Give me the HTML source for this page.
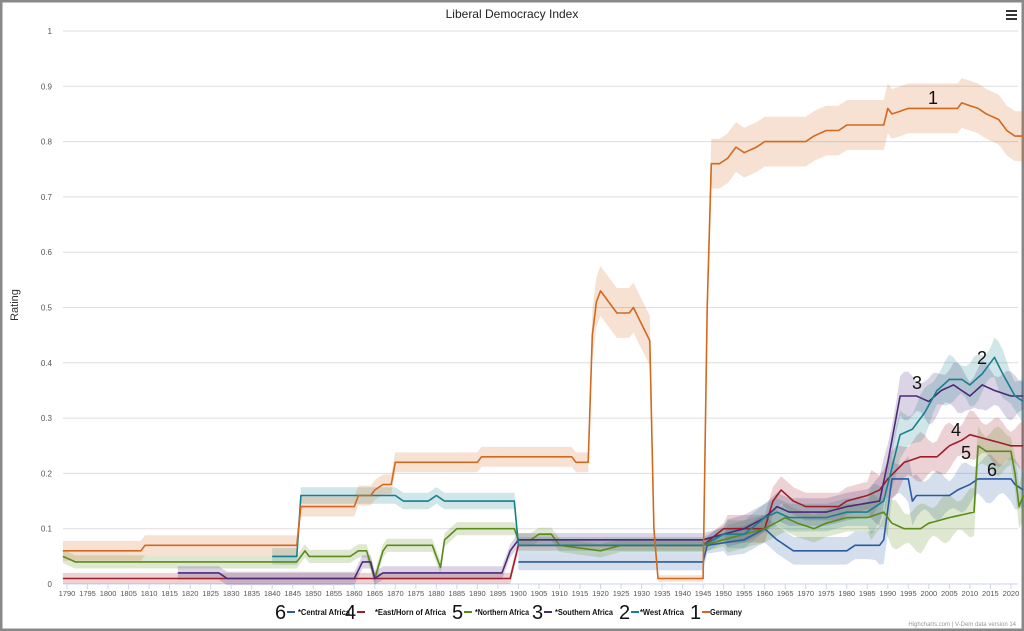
<!DOCTYPE html>
<html><head><meta charset="utf-8"><style>
body{margin:0;background:#fff;font-family:"Liberation Sans",sans-serif}
svg{display:block}
</style></head><body>
<svg id="c" width="1024" height="631" xmlns="http://www.w3.org/2000/svg" font-family="Liberation Sans, sans-serif">
<rect x="1" y="1" width="1022" height="629" fill="#fff" stroke="#888" stroke-width="3"/>
<text x="512" y="18" text-anchor="middle" font-size="12" fill="#222">Liberal Democracy Index</text>
<g stroke="#333" stroke-width="2"><line x1="1006" y1="11" x2="1017" y2="11"/><line x1="1006" y1="15" x2="1017" y2="15"/><line x1="1006" y1="19" x2="1017" y2="19"/></g>
<text transform="translate(18,305) rotate(-90)" text-anchor="middle" font-size="11" fill="#333">Rating</text>
<g id="grid"></g><g id="bands"></g><g id="lines"></g><g id="axis"></g>
<g font-size="18" fill="#111">
<text x="928" y="104">1</text><text x="977" y="364">2</text><text x="912" y="389">3</text><text x="951" y="436">4</text><text x="961" y="459">5</text><text x="987" y="476">6</text>
</g>
<g font-size="8" font-weight="bold" fill="#111">
<text x="275" y="619" font-size="20" font-weight="normal">6</text><line x1="287" y1="612" x2="295" y2="612" stroke="#2a5aa0" stroke-width="2"/><text x="298" y="615" textLength="52" lengthAdjust="spacingAndGlyphs">*Central Africa</text>
<text x="345" y="619" font-size="20" font-weight="normal">4</text><line x1="357" y1="612" x2="365" y2="612" stroke="#a01e2a" stroke-width="2"/><text x="375" y="615" textLength="71" lengthAdjust="spacingAndGlyphs">*East/Horn of Africa</text>
<text x="452" y="619" font-size="20" font-weight="normal">5</text><line x1="464" y1="612" x2="472" y2="612" stroke="#5a8a1a" stroke-width="2"/><text x="475" y="615" textLength="54" lengthAdjust="spacingAndGlyphs">*Northern Africa</text>
<text x="532" y="619" font-size="20" font-weight="normal">3</text><line x1="544" y1="612" x2="552" y2="612" stroke="#4b2a7a" stroke-width="2"/><text x="555" y="615" textLength="58" lengthAdjust="spacingAndGlyphs">*Southern Africa</text>
<text x="619" y="619" font-size="20" font-weight="normal">2</text><line x1="631" y1="612" x2="639" y2="612" stroke="#17808e" stroke-width="2"/><text x="640" y="615" textLength="44" lengthAdjust="spacingAndGlyphs">*West Africa</text>
<text x="690" y="619" font-size="20" font-weight="normal">1</text><line x1="702" y1="612" x2="710" y2="612" stroke="#d2691e" stroke-width="2"/><text x="710" y="615" textLength="32" lengthAdjust="spacingAndGlyphs">Germany</text>
</g>
<text x="1016" y="626" text-anchor="end" font-size="6" fill="#999">Highcharts.com | V-Dem data version 14</text>
</svg>
<script>
var NS="http://www.w3.org/2000/svg";
function X(y){return 67+(y-1790)*4.104}
function Y(v){return 584-553*v}
function el(p,t,a){var e=document.createElementNS(NS,t);for(var k in a)e.setAttribute(k,a[k]);p.appendChild(e);return e}
var g=document.getElementById('grid'),ax=document.getElementById('axis');
for(var i=0;i<=10;i++){var v=i/10,y=Y(v);el(g,'line',{x1:63,x2:1018,y1:y,y2:y,stroke:i?'#ddd':'#ccd6eb','stroke-width':1});
var t=el(ax,'text',{x:52,y:y+3,'text-anchor':'end','font-size':8,fill:'#555'});t.textContent=i==10?'1':i==0?'0':v.toFixed(1);}
for(var yr=1790;yr<=2020;yr+=5){el(ax,'line',{x1:X(yr),x2:X(yr),y1:584,y2:589,stroke:'#ccd6eb'});var t=el(ax,'text',{x:X(yr),y:596,'text-anchor':'middle','font-size':7.5,fill:'#555'});t.textContent=yr;}
function expand(pts,end){var o=[];for(var i=0;i<pts.length;i++){var a=pts[i],b=pts[i+1];o.push(a);if(b){for(var y=a[0]+1;y<b[0];y++){o.push([y,a[1]+(b[1]-a[1])*(y-a[0])/(b[0]-a[0])]);}}}return o}
var S=[
{c:'#2a5aa0',w:0.015,p:[[1900,0.04],[1945,0.04],[1946,0.07],[1955,0.08],[1960,0.1],[1963,0.08],[1965,0.07],[1967,0.06],[1980,0.06],[1982,0.07],[1988,0.07],[1989,0.08],[1991,0.19],[1995,0.19],[1996,0.15],[1997,0.16],[2005,0.16],[2007,0.17],[2010,0.18],[2012,0.19],[2020,0.19],[2021,0.18],[2023,0.17]]},
{c:'#a01e2a',w:0.01,p:[[1789,0.01],[1898,0.01],[1900,0.07],[1945,0.07],[1950,0.1],[1955,0.1],[1960,0.1],[1962,0.15],[1964,0.17],[1967,0.15],[1970,0.14],[1978,0.14],[1980,0.15],[1985,0.16],[1988,0.17],[1990,0.19],[1994,0.22],[1998,0.23],[2002,0.23],[2005,0.25],[2008,0.26],[2010,0.27],[2015,0.26],[2020,0.25],[2023,0.25]]},
{c:'#5a8a1a',w:0.012,p:[[1789,0.05],[1792,0.04],[1846,0.04],[1848,0.06],[1849,0.05],[1859,0.05],[1861,0.06],[1863,0.06],[1865,0.01],[1867,0.06],[1868,0.07],[1879,0.07],[1881,0.03],[1882,0.08],[1885,0.1],[1899,0.1],[1900,0.08],[1903,0.08],[1905,0.09],[1908,0.09],[1910,0.07],[1920,0.06],[1925,0.07],[1945,0.07],[1950,0.08],[1955,0.09],[1960,0.1],[1965,0.12],[1968,0.11],[1972,0.1],[1975,0.11],[1980,0.12],[1985,0.12],[1989,0.13],[1991,0.11],[1994,0.1],[1998,0.1],[2000,0.11],[2005,0.12],[2011,0.13],[2012,0.25],[2014,0.24],[2020,0.24],[2021,0.2],[2022,0.14],[2023,0.16]]},
{c:'#4b2a7a',w:0.012,p:[[1817,0.02],[1827,0.02],[1829,0.01],[1860,0.01],[1862,0.04],[1864,0.04],[1865,0.01],[1867,0.02],[1896,0.02],[1898,0.06],[1900,0.08],[1945,0.08],[1950,0.09],[1955,0.1],[1960,0.12],[1963,0.14],[1966,0.13],[1970,0.13],[1975,0.13],[1980,0.14],[1988,0.15],[1990,0.22],[1992,0.3],[1993,0.34],[1997,0.34],[2000,0.33],[2003,0.35],[2006,0.36],[2010,0.34],[2013,0.36],[2016,0.35],[2020,0.34],[2023,0.34]]},
{c:'#17808e',w:0.015,p:[[1840,0.05],[1846,0.05],[1847,0.16],[1870,0.16],[1872,0.15],[1878,0.15],[1880,0.16],[1882,0.15],[1899,0.15],[1900,0.07],[1945,0.07],[1950,0.09],[1955,0.09],[1960,0.12],[1963,0.13],[1966,0.12],[1970,0.12],[1975,0.12],[1980,0.13],[1985,0.13],[1989,0.15],[1991,0.21],[1993,0.27],[1996,0.28],[1999,0.31],[2002,0.35],[2005,0.37],[2008,0.37],[2010,0.36],[2013,0.38],[2016,0.41],[2018,0.38],[2021,0.34],[2023,0.33]]},
{c:'#d2691e',w:0.045,p:[[1789,0.06],[1808,0.06],[1809,0.07],[1846,0.07],[1847,0.14],[1860,0.14],[1861,0.16],[1864,0.16],[1865,0.17],[1867,0.18],[1869,0.18],[1870,0.22],[1890,0.22],[1891,0.23],[1913,0.23],[1914,0.22],[1917,0.22],[1918,0.45],[1919,0.51],[1920,0.53],[1922,0.51],[1924,0.49],[1927,0.49],[1928,0.5],[1930,0.47],[1932,0.44],[1933,0.1],[1934,0.01],[1945,0.01],[1946,0.5],[1947,0.76],[1949,0.76],[1951,0.77],[1953,0.79],[1955,0.78],[1958,0.79],[1960,0.8],[1970,0.8],[1972,0.81],[1975,0.82],[1978,0.82],[1980,0.83],[1989,0.83],[1990,0.86],[1991,0.85],[1995,0.86],[2007,0.86],[2008,0.87],[2012,0.86],[2014,0.85],[2017,0.84],[2019,0.82],[2021,0.81],[2023,0.81]]}
];
var B=document.getElementById('bands'),L=document.getElementById('lines');
S.forEach(function(s){var pts=expand(s.p);
 var up=pts.map(function(p,i){var w=p[1]<0.3&&s.c=='#d2691e'?0.018:s.w;if(s.c!='#d2691e'&&p[0]>1950)w=0.025;if(p[0]>1985&&s.c!='#d2691e')w=0.035+0.01*Math.sin(i);if(s.c=='#d2691e'&&p[1]<0.03)w=0.006;return [X(p[0]),Y(p[1]+w)]});
 var dn=pts.map(function(p,i){var w=up[i][1];return [X(p[0]),2*Y(p[1])-w]}).reverse();
 el(B,'path',{d:'M'+up.concat(dn).map(function(q){return q[0].toFixed(1)+','+q[1].toFixed(1)}).join('L')+'Z',fill:s.c,'fill-opacity':0.2});
 el(L,'path',{d:'M'+pts.map(function(p){return X(p[0]).toFixed(1)+','+Y(p[1]).toFixed(1)}).join('L'),fill:'none',stroke:s.c,'stroke-width':1.6,'stroke-linejoin':'round'});
});
</script>
</body></html>
